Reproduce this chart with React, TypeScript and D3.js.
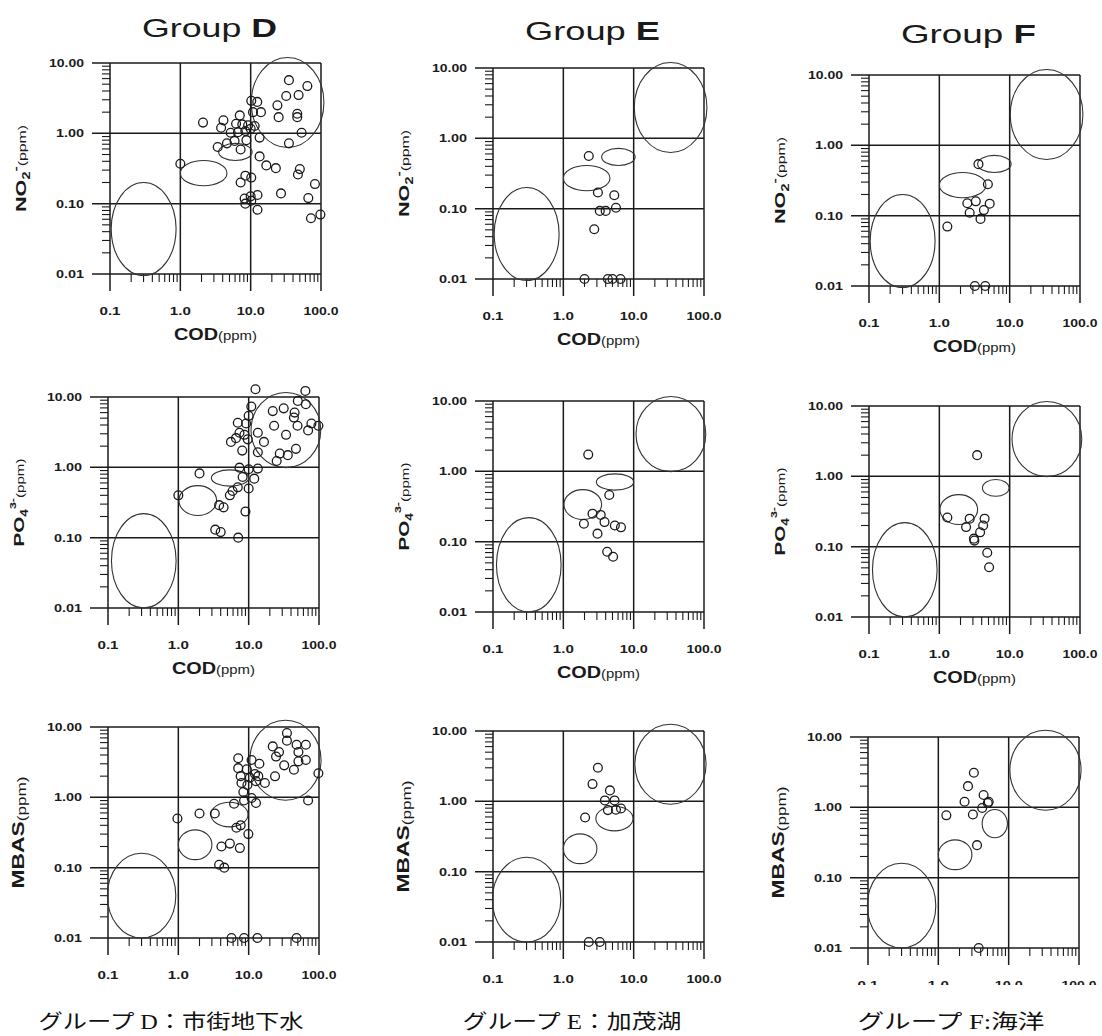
import React from "react";
import * as d3 from "d3";

const groups = ["D", "E", "F"];
const captions = ["グループ D：市街地下水", "グループ E：加茂湖", "グループ F:海洋"];
const xTickValues = [0.1, 1, 10, 100];
const xTickLabels = ["0.1", "1.0", "10.0", "100.0"];
const yTickValues = [0.01, 0.1, 1, 10];
const yTickLabels = ["0.01", "0.10", "1.00", "10.00"];

// [COD, value] pairs
const dNO2 = [
  [35, 5.7], [64, 4.7], [32, 3.4], [48, 3.5], [24, 2.5], [25, 1.7], [46, 1.9], [46, 1.7], [53, 1.02], [35, 0.72],
  [10.2, 2.9], [12.4, 2.8], [14, 2.0], [10.8, 2.0], [2.1, 1.42], [4.1, 1.53], [3.8, 1.2], [7.0, 1.8], [6.2, 1.37], [7.6, 1.34],
  [9.2, 1.3], [11.4, 1.27], [5.2, 1.02], [6.6, 1.04], [8.4, 1.08], [10, 1.16], [13.4, 0.87], [3.4, 0.64], [4.6, 0.72], [5.9, 0.78],
  [7.2, 0.59], [8.7, 0.8], [1.0, 0.37], [13.4, 0.47], [16.7, 0.35], [22.8, 0.32], [50, 0.31], [47, 0.26], [82, 0.19], [8.4, 0.25],
  [10.2, 0.235], [7.2, 0.2], [27, 0.14], [12.5, 0.133], [10, 0.127], [8.2, 0.118], [66, 0.12], [8.4, 0.1], [10.2, 0.11], [12.5, 0.082],
  [72, 0.062], [98, 0.07],
];
const eNO2 = [
  [2.3, 0.56], [3.1, 0.17], [5.3, 0.155], [3.3, 0.093], [4.0, 0.093], [5.6, 0.103], [2.75, 0.051],
  [2.0, 0.01], [4.3, 0.01], [5.0, 0.01], [6.5, 0.01],
];
const fNO2 = [
  [3.6, 0.54], [4.9, 0.28], [2.5, 0.15], [3.3, 0.16], [5.2, 0.148], [2.7, 0.11], [4.3, 0.12], [3.85, 0.09],
  [1.3, 0.07], [3.2, 0.01], [4.5, 0.01],
];

const dPO4 = [
  [12.5, 12.9], [64, 12.2], [50, 8.8], [65, 7.9], [10.9, 7.3], [22, 6.3], [31.5, 6.9], [45, 6.0], [44, 5.1], [10, 5.4],
  [7.0, 4.3], [9.2, 4.2], [23, 3.9], [49.5, 3.9], [78, 4.2], [98, 3.9], [70, 3.35], [13.5, 3.1], [34, 2.9], [7.4, 3.1],
  [8.7, 2.9], [6.6, 2.6], [9.7, 2.5], [5.6, 2.3], [16.5, 2.3], [8.1, 1.73], [13.5, 1.64], [47, 1.83], [27.7, 1.57], [36, 1.49],
  [25, 1.23], [7.4, 0.99], [10, 0.94], [13.5, 0.96], [2.0, 0.82], [8.2, 0.73], [12, 0.69], [7.0, 0.52], [10, 0.5], [5.9, 0.46],
  [5.4, 0.4], [1.0, 0.4], [3.8, 0.29], [4.4, 0.27], [9, 0.235], [3.35, 0.13], [4.0, 0.12], [7.1, 0.1],
];
const ePO4 = [
  [2.26, 1.73], [4.5, 0.46], [2.6, 0.25], [3.4, 0.24], [1.96, 0.18], [3.85, 0.19], [5.4, 0.17], [6.6, 0.16],
  [3.06, 0.13], [4.2, 0.072], [5.1, 0.061],
];
const fPO4 = [
  [3.45, 2.0], [1.3, 0.26], [2.7, 0.25], [2.4, 0.19], [4.4, 0.25], [4.2, 0.2], [3.8, 0.16], [3.1, 0.13],
  [3.15, 0.122], [4.8, 0.082], [5.1, 0.051],
];

const dMBAS = [
  [35, 8.2], [35, 6.4], [22, 5.3], [48, 5.6], [65, 5.6], [27, 4.4], [51, 4.4], [24.5, 3.8], [65, 3.4], [51, 3.25],
  [32, 2.85], [44, 2.47], [98, 2.2], [23.7, 1.99], [7.1, 3.6], [11, 3.4], [14.2, 3.0], [7.1, 2.6], [9.4, 2.5], [12.3, 2.15],
  [7.7, 2.0], [10.4, 1.9], [13.7, 2.0], [17, 1.6], [7.9, 1.6], [9.6, 1.5], [12.7, 1.7], [8.4, 1.19], [11, 0.98], [12.7, 0.83],
  [8.6, 0.9], [70, 0.9], [6.2, 0.81], [2.0, 0.59], [3.3, 0.59], [0.97, 0.5], [6.7, 0.37], [7.7, 0.4], [9.9, 0.3], [4.1, 0.2],
  [5.4, 0.22], [7.5, 0.19], [3.8, 0.11], [4.5, 0.1], [5.7, 0.01], [8.6, 0.01], [13.3, 0.01], [48, 0.01],
];
const eMBAS = [
  [3.1, 3.0], [2.6, 1.76], [4.6, 1.43], [3.9, 1.03], [5.35, 1.03], [4.3, 0.75], [5.6, 0.76], [6.6, 0.79],
  [2.04, 0.59], [2.3, 0.01], [3.3, 0.01],
];
const fMBAS = [
  [3.2, 3.1], [2.64, 2.0], [4.4, 1.5], [2.36, 1.2], [5.05, 1.15], [5.2, 1.2], [4.2, 0.98], [3.1, 0.79],
  [1.3, 0.77], [3.55, 0.29], [3.75, 0.01],
];

// reference regions: [codMin, codMax, valueMin, valueMax]
const ellNO2 = [[0.104, 0.87, 0.0095, 0.2], [1.0, 4.6, 0.18, 0.41], [3.5, 10.5, 0.41, 0.72], [10.2, 110, 0.63, 12]];
const ellPO4 = [[0.112, 0.93, 0.01, 0.22], [1.02, 3.5, 0.207, 0.55], [2.95, 10, 0.54, 0.92], [10.8, 106, 0.99, 11.6]];
const ellPO4F = [[0.112, 0.93, 0.01, 0.22], [1.02, 3.5, 0.207, 0.55], [4.1, 9.8, 0.52, 0.9], [10.8, 106, 0.99, 11.6]];
const ellMBAS = [[0.098, 0.92, 0.01, 0.16], [1.0, 3.0, 0.13, 0.345], [2.9, 9.8, 0.38, 0.85], [10.4, 107, 0.91, 12.5]];
const ellMBASF = [[0.098, 0.92, 0.01, 0.16], [1.0, 3.0, 0.13, 0.345], [4.2, 9.6, 0.37, 0.93], [10.4, 107, 0.91, 12.5]];

const FONT = "'Liberation Sans', Arial, sans-serif";
const INK = "#1a1a1a";
const W = 211;
const H = 211;

const origins = [
  [[110, 63], [493, 68], [869, 75]],
  [[108, 397], [493, 401], [869, 406]],
  [[108, 727], [493, 731], [868, 737]],
];
const titleY = [37, 40, 43];
const captionX = [171, 572, 951];
const captionLen = [265, 219, 187];

const rows = [
  { points: [dNO2, eNO2, fNO2], ells: [ellNO2, ellNO2, ellNO2], label: "no2", cod: true },
  { points: [dPO4, ePO4, fPO4], ells: [ellPO4, ellPO4, ellPO4F], label: "po4", cod: true },
  { points: [dMBAS, eMBAS, fMBAS], ells: [ellMBAS, ellMBAS, ellMBASF], label: "mbas", cod: false },
];

function YTitle({ kind, x, y }: { kind: string; x: number; y: number }) {
  const common = {
    transform: `translate(${x},${y}) rotate(-90)`,
    textAnchor: "middle" as const,
    fontFamily: FONT,
    fontWeight: "bold" as const,
    fill: INK,
    lengthAdjust: "spacingAndGlyphs",
  };
  if (kind === "no2")
    return (
      <text {...common} textLength={87}>
        <tspan fontSize={15}>NO</tspan>
        <tspan fontSize={10} dy={4}>2</tspan>
        <tspan fontSize={11} dy={-11}>-</tspan>
        <tspan fontSize={11} fontWeight="normal" dy={7}>(ppm)</tspan>
      </text>
    );
  if (kind === "po4")
    return (
      <text {...common} textLength={88}>
        <tspan fontSize={15}>PO</tspan>
        <tspan fontSize={10} dy={4}>4</tspan>
        <tspan fontSize={9} dy={-12}>3-</tspan>
        <tspan fontSize={11} fontWeight="normal" dy={8}>(ppm)</tspan>
      </text>
    );
  return (
    <text {...common} textLength={112}>
      <tspan fontSize={16}>MBAS</tspan>
      <tspan fontSize={12} fontWeight="normal" dy={2}>(ppm)</tspan>
    </text>
  );
}

function Panel({ row, col }: { row: number; col: number }) {
  const [x0, y0] = origins[row][col];
  const cfg = rows[row];
  const data = cfg.points[col];
  const ells = cfg.ells[col];
  const x = d3.scaleLog().domain([0.1, 100]).range([x0, x0 + W]);
  const y = d3.scaleLog().domain([0.01, 10]).range([y0 + H, y0]);
  const xMinor = [0.1, 1, 10].flatMap((k) => d3.range(2, 10).map((m) => k * m));
  const yMinor = [0.01, 0.1, 1].flatMap((k) => d3.range(2, 10).map((m) => k * m));
  const bottom = y(0.01);
  const left = x(0.1);

  return (
    <g>
      {/* horizontal grid / major ticks */}
      {yTickValues.map((v) => (
        <line key={"h" + v} x1={left - 18} x2={x(100)} y1={y(v)} y2={y(v)} stroke={INK} strokeWidth={1.5} />
      ))}
      {/* vertical grid / major ticks */}
      {xTickValues.map((v) => (
        <line key={"v" + v} x1={x(v)} x2={x(v)} y1={y(10)} y2={bottom + 17} stroke={INK} strokeWidth={1.5} />
      ))}
      {yMinor.map((v) => (
        <line key={"ym" + v} x1={left - 8} x2={left} y1={y(v)} y2={y(v)} stroke={INK} strokeWidth={1.1} />
      ))}
      {xMinor.map((v) => (
        <line key={"xm" + v} x1={x(v)} x2={x(v)} y1={bottom} y2={bottom + 8} stroke={INK} strokeWidth={1.1} />
      ))}
      {yTickValues.map((v, i) => (
        <text key={"yl" + v} x={left - 26} y={y(v) + 4} textAnchor="end" fontFamily={FONT} fontWeight="bold"
          fontSize={11.5} fill={INK} textLength={yTickLabels[i].length * 7} lengthAdjust="spacingAndGlyphs">
          {yTickLabels[i]}
        </text>
      ))}
      {xTickValues.map((v, i) => (
        <text key={"xl" + v} x={x(v)} y={bottom + 41} textAnchor="middle" fontFamily={FONT} fontWeight="bold"
          fontSize={11.5} fill={INK} textLength={xTickLabels[i].length * 7} lengthAdjust="spacingAndGlyphs">
          {xTickLabels[i]}
        </text>
      ))}
      {ells.map((e, i) => {
        const cx = Math.sqrt(e[0] * e[1]);
        const cy = Math.sqrt(e[2] * e[3]);
        return (
          <ellipse key={"e" + i} cx={x(cx)} cy={y(cy)} rx={(x(e[1]) - x(e[0])) / 2} ry={(y(e[2]) - y(e[3])) / 2}
            fill="none" stroke="#333" strokeWidth={1.1} />
        );
      })}
      {data.map((d, i) => (
        <circle key={"p" + i} cx={x(d[0])} cy={y(d[1])} r={4.4} fill="none" stroke={INK} strokeWidth={1.3} />
      ))}
      <YTitle kind={cfg.label} x={left - 84} y={y0 + H / 2} />
      {cfg.cod && (
        <text x={x0 + W / 2} y={bottom + 66} textAnchor="middle" fontFamily={FONT} fontWeight="bold" fill={INK}
          textLength={83} lengthAdjust="spacingAndGlyphs">
          <tspan fontSize={16}>COD</tspan>
          <tspan fontSize={12} fontWeight="normal">(ppm)</tspan>
        </text>
      )}
    </g>
  );
}

export default function App() {
  return (
    <svg width={1102} height={1036} style={{ position: "absolute", left: 0, top: 0, background: "#fff" }}>
      <rect width={1102} height={1036} fill="#fff" />
      {groups.map((g, c) => (
        <text key={"t" + g} x={origins[0][c][0] + W / 2 - 6} y={titleY[c]} textAnchor="middle" fontFamily={FONT}
          fontSize={26} fill={INK} textLength={135} lengthAdjust="spacingAndGlyphs">
          Group <tspan fontWeight="bold">{g}</tspan>
        </text>
      ))}
      {rows.map((_, r) => groups.map((g, c) => <Panel key={g + r} row={r} col={c} />))}
      {/* the last panel's tick labels are cut by the caption area in the source */}
      <rect x={840} y={985} width={262} height={24} fill="#fff" />
      {captions.map((t, c) => (
        <text key={"c" + c} x={captionX[c]} y={1029} textAnchor="middle"
          fontFamily="'Liberation Serif', 'Noto Sans CJK JP', serif" fontSize={20} fill="#111"
          textLength={captionLen[c]} lengthAdjust="spacingAndGlyphs">
          {t}
        </text>
      ))}
    </svg>
  );
}
